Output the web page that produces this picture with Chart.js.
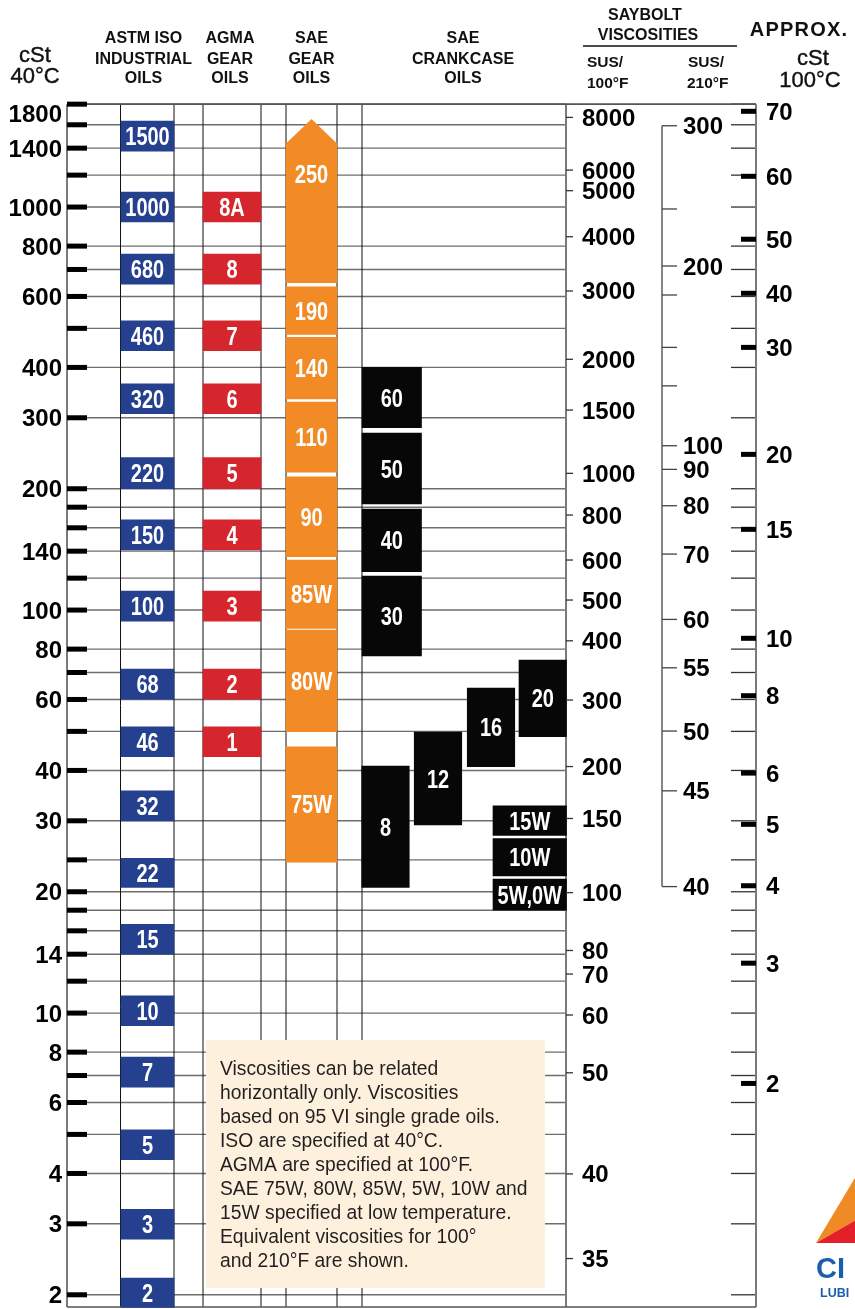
<!DOCTYPE html>
<html>
<head>
<meta charset="utf-8">
<title>Viscosity Comparison Chart</title>
<script src="https://cdn.jsdelivr.net/npm/chart.js@4.4.1/dist/chart.umd.min.js"></script>
<style>
  html, body { margin: 0; padding: 0; background: #fff; }
  #wrap { width: 855px; height: 1309px; }
</style>
</head>
<body>
<div id="wrap"><canvas id="chart" width="855" height="1309"></canvas></div>
<script>
// ---- data (all viscosities in cSt @ 40°C) ----
const cst40Ticks = [1800, 1600, 1400, 1200, 1000, 800, 700, 600, 500, 400, 300, 200, 180, 160, 140, 120,
  100, 80, 70, 60, 50, 40, 30, 24, 20, 18, 16, 14, 12, 10, 8, 7, 6, 5, 4, 3, 2];
const cst40Labeled = [1800, 1400, 1000, 800, 600, 400, 300, 200, 140, 100, 80, 60, 40, 30, 20, 14, 10, 8, 6, 4, 3, 2];

const isoGrades = ["1500", "1000", "680", "460", "320", "220", "150", "100", "68", "46", "32", "22", "15", "10", "7", "5", "3", "2"];
const isoLow  = [1377, 918, 644, 440, 307, 200, 141, 93.9, 60.1, 43.3, 30.0, 20.5, 14.0, 9.30, 6.55, 4.33, 2.75, 1.86];
const isoHigh = [1634, 1089, 764, 522, 364, 239, 167.5, 111.5, 71.4, 51.3, 35.6, 24.2, 16.6, 11.04, 7.78, 5.13, 3.26, 2.20];

const agmaGrades = ["8A", "8", "7", "6", "5", "4", "3", "2", "1"];
const agmaLow  = [918, 644, 440, 307, 200, 141, 93.9, 60.1, 43.3];
const agmaHigh = [1089, 764, 522, 364, 239, 167.5, 111.5, 71.4, 51.3];

const gearGrades = ["250", "190", "140", "110", "90", "85W", "80W", "75W"];
const gearLow  = [649, 483, 334, 220, 135.6, 90.1, 49.9, 23.7];
const gearHigh = [1441, 634, 475, 328, 214, 133, 89.2, 45.8];
const gearArrowTip = 1654;

const ccMonoGrades = ["60", "50", "40", "30"];
const ccMonoLow  = [283.5, 183.3, 124.5, 77.0];
const ccMonoHigh = [400.2, 274.9, 178.1, 121.4];

const ccLightGrades = ["8", "12", "16", "20"];
const ccLightLow  = [20.5, 29.3, 40.9, 48.5];
const ccLightHigh = [41.0, 49.8, 64.0, 75.1];

const ccWinterGrades = ["15W", "10W", "5W,0W"];
const ccWinterLow  = [27.6, 21.9, 18.0];
const ccWinterHigh = [32.7, 27.1, 21.5];

// Saybolt SUS @ 100°F and its cSt @ 40°C position
const sus100Ticks = [8000, 6000, 5000, 4000, 3000, 2000, 1500, 1000, 800, 600, 500, 400, 300, 200, 150, 100, 80, 70, 60, 50, 40, 35];
const sus100AtCst = [1669, 1235, 1098, 844, 619, 419, 313.5, 218.4, 172.1, 133.1, 105.9, 83.9, 59.8, 40.9, 30.4, 19.9, 14.3, 12.5, 9.89, 7.11, 3.99, 2.46];

// Saybolt SUS @ 210°F ("" = unlabeled tick)
const sus210Ticks = ["300", "", "200", "", "", "", "100", "90", "80", "70", "60", "55", "50", "45", "40"];
const sus210AtCst = [1591, 989, 714, 605, 448.5, 360, 255.7, 223.4, 181.5, 137.7, 94.8, 71.9, 50.1, 35.6, 20.6];

// approx. cSt @ 100°C
const cst100Ticks = ["70", "60", "50", "40", "30", "20", "15", "10", "8", "6", "5", "4", "3", "2"];
const cst100AtCst = [1728, 1192, 832, 611, 448.5, 243.4, 158.6, 85.1, 61.3, 39.4, 29.4, 20.7, 13.3, 6.69];

const noteLines = [
  "Viscosities can be related",
  "horizontally only. Viscosities",
  "based on 95 VI single grade oils.",
  "ISO are specified at 40°C.",
  "AGMA are specified at 100°F.",
  "SAE 75W, 80W, 85W, 5W, 10W and",
  "15W specified at low temperature.",
  "Equivalent viscosities for 100°",
  "and 210°F are shown."
];

// ---- layout (x in canvas px, the x scale runs 0..855) ----
const lanes = {
  iso: [121, 174], agma: [203, 261], gear: [286, 337], ccMono: [362, 421.5],
  ccLight: [[362, 409], [414, 462], [467, 515], [519, 566.5]], ccWinter: [493, 566.5]
};
const frame = { left: 67, mid: 566, right: 756, bottom: 1307,
  colLines: [120.5, 174, 203, 261, 286, 337, 362], sus210: 662 };

const FONT = '"Liberation Sans", Arial, Helvetica, sans-serif';
const ISO_BLUE = "#24408e", AGMA_RED = "#d5262e", GEAR_ORANGE = "#f28a25", CC_BLACK = "#070707";

function bars(label, names, lows, highs, lane, color) {
  return {
    label, names, backgroundColor: color, borderWidth: 0, grouped: false,
    barThickness: lane[1] - lane[0],
    data: names.map((n, i) => ({ x: (lane[0] + lane[1]) / 2, y: [lows[i], highs[i]] }))
  };
}
const ccLightSet = {
  label: "SAE crankcase (8-20)", names: ccLightGrades, backgroundColor: CC_BLACK, borderWidth: 0,
  grouped: false, barThickness: 47.5,
  data: ccLightGrades.map((n, i) => ({ x: (lanes.ccLight[i][0] + lanes.ccLight[i][1]) / 2, y: [ccLightLow[i], ccLightHigh[i]] }))
};
const gearSet = bars("SAE gear", gearGrades, gearLow, gearHigh, lanes.gear, GEAR_ORANGE);
gearSet.arrowTip = gearArrowTip;

function condensed(ctx, text, x, cy, size, color) {
  ctx.save();
  ctx.translate(x, cy + size * 0.36);
  ctx.scale(0.8, 1);
  ctx.font = `bold ${size}px ${FONT}`;
  ctx.fillStyle = color || "#fff";
  ctx.textAlign = "center";
  ctx.textBaseline = "alphabetic";
  ctx.fillText(text, 0, 0);
  ctx.restore();
}
function text(ctx, s, x, y, font, align, heavy) {
  ctx.font = font;
  ctx.textAlign = align || "center";
  ctx.textBaseline = "alphabetic";
  ctx.fillText(s, x, y);
  if (heavy) {
    ctx.lineWidth = heavy;
    ctx.strokeStyle = ctx.fillStyle;
    ctx.strokeText(s, x, y);
  }
}
function hline(ctx, x1, x2, y, w, c) {
  ctx.beginPath(); ctx.moveTo(x1, y); ctx.lineTo(x2, y);
  ctx.lineWidth = w; ctx.strokeStyle = c; ctx.stroke();
}
function vline(ctx, x, y1, y2, w, c) {
  ctx.beginPath(); ctx.moveTo(x, y1); ctx.lineTo(x, y2);
  ctx.lineWidth = w; ctx.strokeStyle = c; ctx.stroke();
}

const gridPlugin = {
  id: "grid",
  beforeDatasetsDraw(chart) {
    const ctx = chart.ctx, y = chart.scales.y;
    const top = y.getPixelForValue(1800);
    ctx.save();
    // horizontal grid at every cSt 40 tick, plus short marks on the 100°C axis
    cst40Ticks.forEach(v => {
      const py = y.getPixelForValue(v);
      hline(ctx, frame.left, frame.mid, py, 1.4, "#6e6e6e");
      hline(ctx, 731, frame.right, py, 1.3, "#333");
    });
    frame.colLines.forEach(x => vline(ctx, x, top, frame.bottom, 1, "#111"));
    // outer frame
    vline(ctx, frame.left, top, frame.bottom, 2, "#7a7a7a");
    vline(ctx, frame.mid, top, frame.bottom, 2, "#7a7a7a");
    vline(ctx, frame.right, top, frame.bottom, 2, "#7a7a7a");
    hline(ctx, frame.left, frame.right, top, 1.6, "#555");
    hline(ctx, frame.left, frame.right, frame.bottom, 1.6, "#555");
    // left tick bars
    ctx.fillStyle = "#000";
    cst40Ticks.forEach(v => ctx.fillRect(frame.left, y.getPixelForValue(v) - 2.5, 20, 5));
    // note box
    ctx.fillStyle = "#fdf1de";
    ctx.fillRect(206, 1040, 339, 248);
    ctx.fillStyle = "#231f20";
    noteLines.forEach((s, i) => text(ctx, s, 220, 1075 + i * 24, `19.3px ${FONT}`, "left"));
    ctx.restore();
  },
  afterDatasetsDraw(chart) {
    const ctx = chart.ctx, y = chart.scales.y;
    ctx.save();
    chart.data.datasets.forEach((ds, di) => {
      const meta = chart.getDatasetMeta(di);
      meta.data.forEach((bar, i) => {
        const top = Math.min(bar.y, bar.base), bottom = Math.max(bar.y, bar.base);
        let cy = (top + bottom) / 2;
        if (ds.arrowTip && i === 0) {
          const tip = y.getPixelForValue(ds.arrowTip);
          ctx.fillStyle = ds.backgroundColor;
          ctx.beginPath();
          ctx.moveTo(bar.x - bar.width / 2, top + 0.5);
          ctx.lineTo(bar.x, tip);
          ctx.lineTo(bar.x + bar.width / 2, top + 0.5);
          ctx.closePath();
          ctx.fill();
          cy = top + 31;
        }
        condensed(ctx, ds.names[i], bar.x, cy, 25);
      });
    });
    ctx.restore();
  },
  afterDraw(chart) {
    const ctx = chart.ctx, y = chart.scales.y;
    const B24 = `bold 24px ${FONT}`;
    ctx.save();
    ctx.fillStyle = "#000";
    // left cSt 40°C labels
    cst40Labeled.forEach(v => {
      const py = Math.max(y.getPixelForValue(v), 113);
      text(ctx, String(v), 62, py + 8.5, B24, "right");
    });
    // SUS 100°F axis
    sus100Ticks.forEach((s, i) => {
      const py = y.getPixelForValue(sus100AtCst[i]);
      hline(ctx, frame.mid, 573, py, 1.3, "#333");
      ctx.fillStyle = "#000";
      text(ctx, String(s), 582, py + 8.5, B24, "left");
    });
    // SUS 210°F axis
    vline(ctx, frame.sus210, y.getPixelForValue(sus210AtCst[0]), y.getPixelForValue(sus210AtCst[sus210AtCst.length - 1]), 1.3, "#444");
    sus210Ticks.forEach((s, i) => {
      const py = y.getPixelForValue(sus210AtCst[i]);
      hline(ctx, frame.sus210, 677, py, 1.3, "#444");
      if (s) { ctx.fillStyle = "#000"; text(ctx, s, 683, py + 8.5, B24, "left"); }
    });
    // cSt 100°C axis
    cst100Ticks.forEach((s, i) => {
      const py = y.getPixelForValue(cst100AtCst[i]);
      ctx.fillStyle = "#000";
      ctx.fillRect(741, py - 2.5, 15, 5);
      text(ctx, s, 766, py + 8.5, B24, "left");
    });

    // headers
    const H16 = `bold 16px ${FONT}`;
    const R22 = `22px ${FONT}`;
    ctx.fillStyle = "#111";
    text(ctx, "cSt", 35, 62, R22, "center", 0.4);
    text(ctx, "40°C", 35, 83, R22, "center", 0.4);
    [["ASTM ISO", "INDUSTRIAL", "OILS", 143.5], ["AGMA", "GEAR", "OILS", 230],
     ["SAE", "GEAR", "OILS", 311.5], ["SAE", "CRANKCASE", "OILS", 463]].forEach(h => {
      text(ctx, h[0], h[3], 43, H16);
      text(ctx, h[1], h[3], 64, H16);
      text(ctx, h[2], h[3], 83, H16);
    });
    text(ctx, "SAYBOLT", 645, 20, H16);
    text(ctx, "VISCOSITIES", 648, 40, H16);
    hline(ctx, 583, 737, 46, 1.5, "#111");
    text(ctx, "SUS/", 587, 67, `bold 15.5px ${FONT}`, "left");
    text(ctx, "100°F", 587, 88, `bold 15.5px ${FONT}`, "left");
    text(ctx, "SUS/", 688, 67, `bold 15.5px ${FONT}`, "left");
    text(ctx, "210°F", 687, 88, `bold 15.5px ${FONT}`, "left");
    ctx.letterSpacing = "1.2px";
    text(ctx, "APPROX.", 799, 36, `bold 20px ${FONT}`);
    ctx.letterSpacing = "0px";
    text(ctx, "cSt", 813, 65, R22, "center", 0.4);
    text(ctx, "100°C", 810, 87, R22, "center", 0.4);

    // corner logo (partly outside the page)
    ctx.fillStyle = "#f08a24";
    ctx.beginPath(); ctx.moveTo(816, 1243); ctx.lineTo(856, 1176); ctx.lineTo(856, 1220); ctx.closePath(); ctx.fill();
    ctx.fillStyle = "#e3202a";
    ctx.beginPath(); ctx.moveTo(816, 1243); ctx.lineTo(856, 1220); ctx.lineTo(856, 1243); ctx.closePath(); ctx.fill();
    ctx.fillStyle = "#1b5eab";
    text(ctx, "CI", 816, 1278, `bold 29px ${FONT}`, "left");
    text(ctx, "LUBI", 820, 1297, `bold 12.5px ${FONT}`, "left");
    ctx.restore();
  }
};

new Chart(document.getElementById("chart"), {
  type: "bar",
  data: {
    datasets: [
      bars("ASTM ISO industrial oils", isoGrades, isoLow, isoHigh, lanes.iso, ISO_BLUE),
      bars("AGMA gear oils", agmaGrades, agmaLow, agmaHigh, lanes.agma, AGMA_RED),
      gearSet,
      bars("SAE crankcase (30-60)", ccMonoGrades, ccMonoLow, ccMonoHigh, lanes.ccMono, CC_BLACK),
      ccLightSet,
      bars("SAE crankcase (W)", ccWinterGrades, ccWinterLow, ccWinterHigh, lanes.ccWinter, CC_BLACK)
    ]
  },
  options: {
    responsive: false,
    animation: false,
    devicePixelRatio: 1,
    layout: { padding: { top: 103, left: 0, right: 0, bottom: 0 } },
    plugins: { legend: { display: false }, tooltip: { enabled: false } },
    scales: {
      x: { type: "linear", min: 0, max: 855, display: false, offset: false },
      y: { type: "logarithmic", min: 1.844, max: 1812, display: false }
    }
  },
  plugins: [gridPlugin]
});
</script>
</body>
</html>
